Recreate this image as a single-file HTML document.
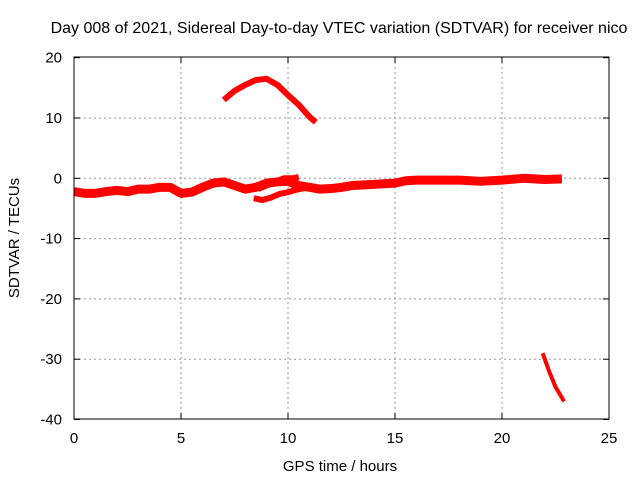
<!DOCTYPE html>
<html><head><meta charset="utf-8"><style>
body{margin:0;background:#fff;}
svg{display:block;font-family:"Liberation Sans",sans-serif;}
</style></head><body>
<svg id="chart" width="640" height="480" viewBox="0 0 640 480">
<text x="339" y="33" font-size="16" text-anchor="middle">Day 008 of 2021, Sidereal Day-to-day VTEC variation (SDTVAR) for receiver nico</text>
<g id="grid"></g>
<g id="series"></g>
<rect x="74" y="57" width="535" height="362" fill="none" stroke="#000" stroke-width="1"/>
<g id="ticks"></g>
<text x="340" y="471" font-size="15" text-anchor="middle">GPS time / hours</text>
<text transform="translate(19,238) rotate(-90)" font-size="15" text-anchor="middle">SDTVAR / TECUs</text>
</svg>
<script>
const xTicks=[0,5,10,15,20,25];
const yTicks=[20,10,0,-10,-20,-30,-40];
const mainT=[0,0.5,1,1.5,2,2.5,3,3.5,4,4.5,5,5.5,6,6.5,7,7.5,8,8.5,9,9.5,10,10.5,11,11.5,12,12.5,13,14,15,15.5,16,17,18,19,20,21,22,22.8];
const mainV=[-2.2,-2.5,-2.5,-2.2,-2,-2.2,-1.8,-1.8,-1.5,-1.5,-2.5,-2.3,-1.5,-0.8,-0.6,-1.2,-1.8,-1.5,-0.8,-0.6,-0.5,-1.2,-1.5,-1.8,-1.7,-1.5,-1.2,-1,-0.8,-0.4,-0.3,-0.3,-0.3,-0.5,-0.3,0,-0.2,-0.1];
const lowT=[8.4,8.8,9.2,9.6,10,10.5,11];
const lowV=[-3.3,-3.6,-3.2,-2.6,-2.3,-1.8,-1.5];
const upT=[8.6,9,9.4,9.8,10.2,10.5];
const upV=[-1.8,-1.2,-0.6,0,0,0.2];
const topT=[7,7.5,8,8.5,9,9.5,10,10.5,11,11.3];
const topV=[13,14.5,15.5,16.3,16.5,15.5,13.8,12.2,10.2,9.3];
const tailT=[21.9,22.2,22.5,22.9];
const tailV=[-29,-32,-34.6,-37];
const X=t=>74+t*(535/25);
const Y=v=>178.3-v*6.03;
const NS="http://www.w3.org/2000/svg";
const grid=document.getElementById('grid'),ticks=document.getElementById('ticks'),ser=document.getElementById('series');
function mk(tag,at,par){const e=document.createElementNS(NS,tag);for(const k in at)e.setAttribute(k,at[k]);par.appendChild(e);return e;}
xTicks.forEach(t=>{
 if(t>0&&t<25){const g=mk('line',{x1:X(t),x2:X(t),y1:57,y2:419,stroke:'#999','stroke-dasharray':'2,3'},grid);
 
 }
 const a=mk('line',{x1:X(t),x2:X(t),y1:419,y2:413,stroke:'#000'},ticks);
 
 
 const b=mk('line',{x1:X(t),x2:X(t),y1:57,y2:63,stroke:'#000'},ticks);
 
 
 const l=mk('text',{x:X(t),y:443,'font-size':15,'text-anchor':'middle'},ticks);l.textContent=t;
 
 
});
yTicks.forEach(v=>{
 if(v<20&&v>-40){const g=mk('line',{x1:74,x2:609,y1:Y(v),y2:Y(v),stroke:'#999','stroke-dasharray':'2,3'},grid);
 
 }
 const a=mk('line',{x1:74,x2:80,y1:Y(v),y2:Y(v),stroke:'#000'},ticks);
 
 
 const b=mk('line',{x1:603,x2:609,y1:Y(v),y2:Y(v),stroke:'#000'},ticks);
 
 
 const l=mk('text',{x:62,y:Y(v)+5,'font-size':15,'text-anchor':'end'},ticks);l.textContent=v;
 
 
});
function line(ts,vs,w,name){
 const p=mk('polyline',{points:ts.map((t,i)=>X(t)+','+Y(vs[i])).join(' '),fill:'none',stroke:'#f00','stroke-width':w,'stroke-linejoin':'round'},ser);
 
 
}
line(mainT,mainV,9,'main-band-series');
line(lowT,lowV,6,'lower-branch-series');
line(upT,upV,6,'upper-branch-series');
line(topT,topV,6,'high-arc-series');
line(tailT,tailV,4,'low-tail-series');
</script>
</body></html>
